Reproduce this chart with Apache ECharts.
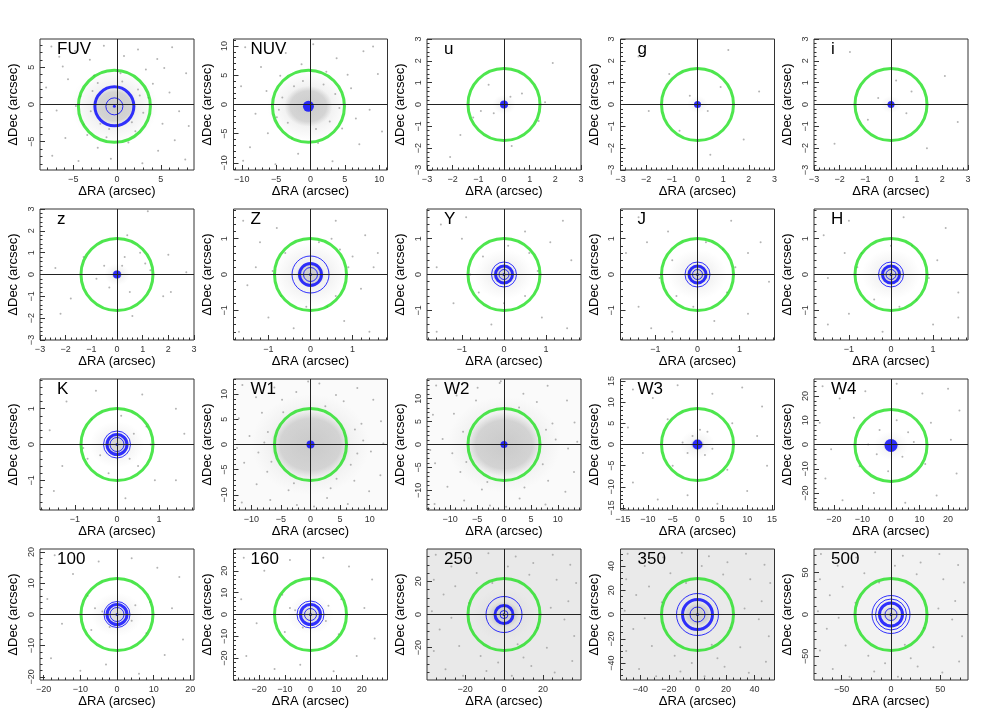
<!DOCTYPE html>
<html>
<head>
<meta charset="utf-8">
<script src="https://cdn.jsdelivr.net/npm/echarts@6/dist/echarts.min.js"></script>
<style>
html, body { margin: 0; padding: 0; background: #fff; }
#chart { width: 1008px; height: 720px; }
</style>
</head>
<body>
<div id="chart"></div>
<script>
// ===== panel data (one entry per band) =====
const bands = ['FUV', 'NUV', 'u', 'g', 'i', 'z', 'Z', 'Y', 'J', 'H', 'K', 'W1', 'W2', 'W3', 'W4', '100', '160', '250', '350', '500'];
const axisMax = [8.8, 11.2, 3, 3, 3, 3, 1.83, 1.83, 1.83, 1.83, 1.83, 13, 14.3, 15.5, 27, 21, 30, 39.5, 54, 78];
const majorTicks = [
  [-5, 0, 5], [-10, -5, 0, 5, 10],
  [-3, -2, -1, 0, 1, 2, 3], [-3, -2, -1, 0, 1, 2, 3], [-3, -2, -1, 0, 1, 2, 3], [-3, -2, -1, 0, 1, 2, 3],
  [-1, 0, 1], [-1, 0, 1], [-1, 0, 1], [-1, 0, 1], [-1, 0, 1],
  [-10, -5, 0, 5, 10], [-10, -5, 0, 5, 10], [-15, -10, -5, 0, 5, 10, 15], [-20, -10, 0, 10, 20],
  [-20, -10, 0, 10, 20], [-20, -10, 0, 10, 20], [-20, 0, 20], [-40, -20, 0, 20, 40], [-50, 0, 50]
];
const minorStep = [1, 1, 0.2, 0.2, 0.2, 0.2, 0.2, 0.2, 0.2, 0.2, 0.2, 1, 1, 1, 2, 2, 2, 5, 5, 10];
// centroid of the offsets (arcsec)
const centreX = [-0.3, -0.3, 0, 0, 0, 0, 0, 0, 0, 0, 0, 0, 0, 0, 0, 0, 0, 0, 0, 0];
const centreY = [-0.25, -0.3, 0, 0, 0, 0, 0, 0, 0, 0, 0, 0, 0, 0, -0.4, 0, 0, 0, 0, 0];
// dense core / halo of the offset cloud (arcsec)
const coreRadius = [2.6, 3.5, 0.18, 0.16, 0.16, 0.22, 0.35, 0.3, 0.3, 0.3, 0.3, 6.8, 7.0, 1.5, 3, 3, 4, 8, 10, 10];
const haloRadius = [5.0, 6.0, 0.45, 0.4, 0.4, 0.5, 0.9, 0.7, 0.7, 0.7, 0.65, 10, 10.5, 3.5, 6, 7, 9, 16, 18, 20];
const coreAlpha = [0.8, 0.8, 0.8, 0.8, 0.8, 0.7, 0.8, 0.75, 0.75, 0.75, 0.7, 0.8, 0.8, 0.6, 0.55, 0.55, 0.55, 0.65, 0.65, 0.5];
const haloAlpha = [0.35, 0.35, 0.25, 0.2, 0.2, 0.25, 0.3, 0.25, 0.25, 0.25, 0.25, 0.35, 0.35, 0.2, 0.2, 0.25, 0.25, 0.25, 0.25, 0.2];

// scattered individual offsets [dRA, dDec] (arcsec)
const sparse = {
  FUV: [[-7.5, 7.8], [-6.2, 5.1], [-4.8, 7.2], [-3.1, 6.0], [-1.5, 7.9], [0.8, 6.5], [2.4, 7.4], [4.6, 6.1], [6.3, 7.7], [7.9, 4.2],
    [-8.1, 2.3], [-6.9, -0.8], [-5.6, 3.4], [-4.2, 1.1], [-3.8, -2.7], [-5.9, -4.5], [-7.4, -6.9], [-4.4, -7.6], [-2.2, -5.8], [-0.7, -7.3],
    [1.3, -5.1], [2.9, -7.9], [4.7, -6.2], [6.6, -4.8], [7.8, -7.4], [5.2, -2.6], [7.1, -0.9], [4.1, 2.8], [6.0, 1.6], [3.3, 4.7],
    [-2.6, 3.9], [2.1, -3.6], [-3.4, -4.1], [0.4, 4.2], [-1.2, -4.4], [3.6, 0.9], [-4.7, -0.2], [5.4, 4.9], [-6.6, 6.4], [8.2, -2.9],
    [-2.8, 1.8], [2.4, 2.0], [-1.9, -2.6], [1.7, -2.4], [-3.0, -0.9], [3.0, -1.1], [0.6, 3.1], [-0.9, -3.3], [2.6, 1.2], [-2.2, 2.9]],
  NUV: [[-9.5, 9.8], [-7.2, 6.4], [-3.6, 8.8], [0.4, 10.3], [3.8, 7.9], [7.7, 9.1], [9.8, 5.2], [-10.1, 3.1], [-8.0, -1.6], [-6.4, 2.3],
    [5.9, 2.8], [8.6, -0.9], [10.4, -4.6], [7.1, -6.8], [3.2, -9.7], [-1.8, -8.4], [-5.1, -10.2], [-8.8, -7.3], [-6.2, -4.9], [4.6, -4.1],
    [-4.4, 4.9], [2.3, 5.6], [-2.7, -5.8], [5.4, 5.1], [-9.8, -9.6], [9.1, 9.9], [1.1, -6.6], [-4.9, -2.2], [6.6, -2.4], [-1.3, 6.9],
    [-4.1, 1.2], [3.6, 1.8], [-3.3, -3.1], [2.8, -2.9], [-1.1, 4.0], [0.8, -4.2], [4.2, -0.6], [-4.6, -0.9], [1.9, 3.4], [-2.4, 3.1]],
  u: [[1.9, 1.9], [-1.7, -1.4], [0.3, -1.9], [-1.2, -0.6], [1.35, -0.75], [0.7, 0.5], [-0.6, 0.9], [-2.1, -2.4], [1.6, 0.1], [-0.4, -0.4], [-0.9, -0.3], [0.25, 0.35]],
  g: [[-2.3, 2.2], [1.8, -1.6], [-1.1, 1.4], [0.9, 0.8], [-0.7, -1.2], [2.4, 0.6], [-1.9, -0.3], [0.5, -2.3], [1.2, 2.5], [-0.3, 0.4], [0.4, -0.3]],
  i: [[-1.6, 2.4], [2.1, 1.3], [-2.2, -1.8], [1.4, -2.0], [0.8, 0.6], [-0.9, -0.7], [0.2, 1.1], [-0.5, 0.3], [0.6, -0.4], [2.6, -0.8]],
  z: [[1.2, 2.9], [0.4, 1.8], [-2.2, -1.8], [-2.4, 0.3], [1.1, 0.5], [0.9, 1.0], [0.3, 0.8], [-0.5, 0.4], [2.0, 0.9], [1.8, -1.0],
    [2.1, -0.8], [-1.8, -1.1], [0.6, -1.9], [-0.3, -0.6], [1.3, 0.2], [-1.3, 0.8], [0.5, -0.8], [-0.8, -0.2], [0.2, 0.4], [2.7, 0.1]],
  Z: [[-1.6, 1.5], [-1.2, 0.9], [-0.8, 1.3], [0.6, 1.5], [1.3, 1.1], [1.6, 0.6], [-1.5, -0.3], [-1.3, 0.2], [1.2, -0.4], [1.5, 0.2],
    [-1.0, -1.2], [-0.4, -1.5], [0.8, -1.3], [1.4, -1.6], [-1.7, -1.6], [0.7, 0.7], [-0.6, 0.6], [-0.7, -0.6], [0.6, -0.6], [0.9, 0.2],
    [-0.9, 0.1], [0.2, 0.9], [-0.1, -0.9], [0.5, 1.0], [1.0, 0.5], [0.4, -0.9]],
  Y: [[-1.5, 1.4], [-0.9, 1.6], [0.5, 1.2], [1.4, 1.5], [1.6, 0.4], [-1.6, 0.2], [-1.2, -0.8], [-0.3, -1.4], [0.9, -1.2], [1.5, -1.5],
    [-1.6, -1.6], [0.6, 0.6], [-0.5, 0.5], [-0.6, -0.5], [0.5, -0.6], [0.8, 0.1], [-0.8, 0.0], [0.1, 0.8], [0.0, -0.8], [1.1, 0.9], [-1.0, 1.0]],
  J: [[-1.4, 1.6], [-0.7, 1.2], [0.8, 1.5], [1.5, 0.9], [1.7, -0.2], [-1.7, 0.6], [-1.4, -0.9], [-0.6, -1.6], [0.4, -1.3], [1.2, -1.1],
    [-1.1, -1.5], [0.6, 0.7], [-0.6, 0.4], [-0.5, -0.6], [0.7, -0.5], [0.9, 0.2], [-0.9, -0.1], [0.2, 0.9], [-0.1, -0.9], [1.2, 0.6], [-1.2, 0.9]],
  H: [[-1.6, 1.1], [-1.0, 1.5], [0.3, 1.6], [1.3, 1.3], [1.6, -0.5], [-1.5, -0.1], [-1.0, -1.1], [-0.2, -1.6], [1.0, -1.4], [1.6, -1.2],
    [-1.5, -1.4], [0.5, 0.8], [-0.7, 0.6], [-0.4, -0.7], [0.6, -0.7], [0.9, -0.1], [-0.8, 0.2], [0.0, 0.8], [0.2, -0.9], [1.1, 0.4], [-1.1, 0.6]],
  K: [[-1.5, -1.3], [-1.2, 1.2], [-0.5, 1.5], [0.6, 1.4], [1.4, 1.0], [1.6, 0.3], [-1.6, 0.4], [-1.3, -0.6], [0.2, -1.5], [0.9, -1.0],
    [1.4, -1.0], [0.7, 0.5], [-0.6, 0.7], [-0.7, -0.4], [0.5, -0.6], [0.8, 0.0], [-0.8, -0.1], [0.1, 0.8], [-0.2, -0.8], [0.4, 0.3], [-0.4, -0.3], [0.3, -0.4]],
  W1: [[-11.5, 11.8], [-9.2, 9.4], [-6.1, 11.3], [-2.4, 10.4], [1.5, 12.1], [4.3, 9.8], [7.9, 11.2], [10.6, 8.9], [11.9, 4.6], [-12.1, 5.2],
    [-10.3, 1.7], [-11.2, -3.6], [-9.1, -7.9], [-11.6, -11.5], [-6.8, -11.0], [-2.3, -12.0], [2.8, -10.6], [6.3, -11.8], [9.9, -9.3], [11.8, -6.1],
    [10.2, -1.4], [8.6, 4.1], [-8.2, 6.3], [7.4, -7.2], [-7.3, -5.4], [8.9, 0.8], [-8.8, -1.6], [5.6, 8.6], [-4.8, 8.9], [3.4, -8.7],
    [-3.7, -9.1], [12.3, 0.2], [-12.4, -0.7], [0.6, -12.3], [-0.4, 12.5], [7.5, 3.0], [-7.2, 2.5], [6.8, -4.0], [-6.6, -3.4], [2.5, 7.6],
    [-2.8, -7.7], [4.4, -6.8], [-4.6, 6.4], [7.9, -1.8], [-7.8, 0.4]],
  W2: [[-12.6, 12.9], [-8.8, 10.7], [-4.9, 12.4], [-0.8, 13.4], [3.6, 11.1], [8.1, 12.8], [11.7, 9.6], [13.1, 4.8], [-13.2, 6.5], [-11.4, 1.2],
    [-12.8, -4.1], [-10.5, -9.2], [-12.9, -13.0], [-7.4, -12.2], [-2.6, -13.3], [2.9, -11.8], [7.7, -13.1], [11.4, -10.3], [13.0, -6.0], [11.9, -0.9],
    [9.0, 4.6], [-9.3, 6.7], [8.2, -7.9], [-8.1, -6.0], [9.6, 1.1], [-9.6, -1.9], [6.1, 9.3], [-5.2, 9.6], [3.8, -9.4], [-4.1, -9.8],
    [13.6, 0.6], [-13.7, -1.2], [0.4, -13.6], [-0.6, 13.8], [7.8, 3.2], [-7.6, 2.8], [7.2, -4.3], [-7.0, -3.8], [2.8, 8.1], [-3.1, -8.2]],
  W3: [[-13, 13], [-9, 11], [-4, 14], [3, 12], [9, 13.5], [13, 9], [-14, 4], [-11, -2], [-13, -9], [-8, -13], [-2, -12], [4, -14], [10, -11],
    [14, -5], [12, 2], [7, 5], [-6, 6], [-5, -5], [6, -6], [2, 3], [-2, -2], [3, -1], [-1, 2], [1.5, -2.5], [-3, 0.5], [0.5, 3.5]],
  W4: [[-24, 24], [-18, 19], [-9, 22], [2, 25], [11, 21], [20, 23], [24, 14], [-25, 9], [-21, -2], [-23, -14], [-17, -23], [-6, -20], [5, -24],
    [16, -21], [23, -12], [21, 2], [14, 9], [-13, 11], [-11, -9], [12, -8], [6, 5], [-5, -4], [4, -5], [-4, 6], [8, 1], [-8, 0], [2, 10], [-1, -11]],
  100: [[-17, 19], [-12, 13], [-5, 17], [4, 18], [11, 15], [17, 12], [-19, 5], [-15, -3], [-18, -14], [-10, -18], [-3, -16], [6, -19],
    [13, -13], [18, -8], [15, 2], [9, 4], [-8, 6], [-7, -5], [8, -6], [-4, 1], [4, -2], [-6, 2], [5, 3], [-2, -4]],
  160: [[-26, 26], [-18, 20], [-8, 25], [5, 26], [15, 22], [24, 16], [-27, 7], [-21, -4], [-25, -19], [-14, -25], [-4, -23], [9, -26],
    [18, -19], [25, -11], [21, 3], [12, 7], [-11, 9], [-10, -8], [11, -9], [-6, 2], [6, -3], [-8, 3], [7, 4], [-3, -6]],
  250: [[-35, 36], [-27, 29], [-18, 34], [-8, 37], [6, 35], [15, 31], [25, 36], [34, 30], [37, 19], [-36, 21], [-31, 12], [-37, 2], [-33, -9],
    [-36, -22], [-30, -33], [-21, -37], [-9, -34], [4, -37], [14, -31], [26, -35], [35, -28], [36, -13], [31, -3], [33, 8], [27, 21], [-25, 17],
    [-23, -19], [22, -20], [-14, 25], [13, 24], [-12, -25], [10, -26], [-27, -2], [24, 4], [-6, 19], [7, -18], [-18, 7], [17, -8], [2, 29], [-3, -29]],
  350: [[-49, 50], [-37, 40], [-24, 47], [-11, 51], [8, 48], [21, 43], [34, 50], [47, 41], [51, 26], [-50, 29], [-43, 16], [-51, 3], [-45, -12],
    [-50, -30], [-41, -45], [-29, -51], [-12, -47], [5, -51], [19, -43], [36, -48], [48, -39], [50, -18], [43, -4], [45, 11], [37, 29], [-34, 23],
    [-32, -26], [30, -27], [-19, 34], [18, 33], [-16, -34], [14, -36], [-37, -3], [33, 5], [-8, 26], [10, -25], [-25, 10], [23, -11], [3, 40], [-4, -40]],
  500: [[-71, 72], [-54, 58], [-35, 68], [-16, 74], [12, 70], [30, 62], [49, 72], [68, 59], [74, 38], [-72, 42], [-62, 23], [-74, 4], [-65, -17],
    [-72, -43], [-59, -65], [-42, -74], [-17, -68], [7, -74], [27, -62], [52, -69], [69, -56], [72, -26], [62, -6], [65, 16], [53, 42], [-49, 33],
    [-46, -37], [43, -39], [-27, 49], [26, 48], [-23, -49], [20, -52], [-53, -4], [48, 7], [-12, 38], [14, -36], [-36, 14], [33, -16], [4, 58], [-6, -58]]
};

// ===== styles =====
// blue circles per panel: [diameter px, line width] (0 = filled dot)
const ringStyle = [
  [[39, 3], [17, 1], [3, 0]], [[11, 0]], [[8, 0]], [[7, 0]], [[7, 0]], [[8, 0]],
  [[37, 1], [22, 3], [14, 1], [3, 0]], [[25, 1], [17, 3], [10, 1], [3, 0]], [[25, 1], [17, 3], [10, 1], [3, 0]],
  [[25, 1], [17, 3], [10, 1], [3, 0]], [[27, 1], [20, 3], [14, 1], [3, 0]],
  [[8, 0]], [[7, 0]], [[10, 0]], [[13, 0]],
  [[26, 1], [20, 3], [14, 1], [3, 0]], [[27, 1], [20, 3], [12, 1], [3, 0]],
  [[36, 1], [18, 3], [8, 1], [3, 0]], [[42, 1], [30, 3], [15, 1], [3, 0]], [[38, 1], [31, 1], [23, 3], [12, 1], [3, 0]]
];
// speckled field of the sub-mm panels, drawn as a flat tone
const fieldTone = { '250': '#e9e9e9', '350': '#eaeaea', '500': '#f2f2f2', 'W1': '#fafafa', 'W2': '#fafafa' };

const GREEN = '#22e022';
const BLUE = '#0000ff';
const FONT = 'Liberation Sans, Arial, Helvetica, sans-serif';
const PW = 154, PH = 131;            // plot frame size (px)
const colX = (c) => 40 + 193.5 * c;
const rowY = (r) => 39 + 170 * r;

const minus = (v) => String(v).replace('-', '\u2212');
const minorValues = (max, step) => {
  const out = [];
  for (let v = Math.ceil(-max / step) * step; v <= max + 1e-9; v += step) out.push(Math.round(v * 1000) / 1000);
  return out;
};

const chart = echarts.init(document.getElementById('chart'));
const grid = [], xAxis = [], yAxis = [], series = [], title = [];

bands.forEach((band, i) => {
  const c = i % 5, r = Math.floor(i / 5);
  const m = axisMax[i];
  const pxX = PW / (2 * m), pxY = PH / (2 * m);
  grid.push({
    left: colX(c), top: rowY(r), width: PW, height: PH,
    show: true, borderColor: '#333', borderWidth: 1,
    backgroundColor: fieldTone[band] || '#fff'
  });
  title.push({
    text: band, left: colX(c) + 17, top: rowY(r) + 2, padding: 0,
    textStyle: { fontSize: 17, fontWeight: 'normal', color: '#000', fontFamily: FONT }
  });
  // axis line off and not on zero (the crosshair is drawn by markLine)
  const common = { gridIndex: i, min: -m, max: m, splitLine: { show: false }, axisLine: { show: false, onZero: false } };
  // major ticks + labels
  xAxis.push(Object.assign({}, common, {
    type: 'value', position: 'bottom',
    name: '\u0394RA (arcsec)', nameLocation: 'middle', nameGap: 15,
    nameTextStyle: { fontSize: 13, color: '#000', fontFamily: FONT },
    axisTick: { show: true, inside: true, length: 5, customValues: majorTicks[i], lineStyle: { color: '#333' } },
    axisLabel: { customValues: majorTicks[i], fontSize: 9, color: '#333', margin: 5, fontFamily: FONT, formatter: minus }
  }));
  // minor ticks
  xAxis.push(Object.assign({}, common, {
    type: 'value', position: 'bottom',
    axisTick: { show: true, inside: true, length: 2.5, customValues: minorValues(m, minorStep[i]), lineStyle: { color: '#333' } },
    axisLabel: { show: false }
  }));
  yAxis.push(Object.assign({}, common, {
    type: 'value', position: 'left',
    name: '\u0394Dec (arcsec)', nameLocation: 'middle', nameGap: 20,
    nameTextStyle: { fontSize: 13, color: '#000', fontFamily: FONT },
    axisTick: { show: true, inside: true, length: 5, customValues: majorTicks[i], lineStyle: { color: '#333' } },
    axisLabel: { customValues: majorTicks[i], fontSize: 9, color: '#333', margin: 4, rotate: 90, fontFamily: FONT, formatter: minus }
  }));
  yAxis.push(Object.assign({}, common, {
    type: 'value', position: 'left',
    axisTick: { show: true, inside: true, length: 2.5, customValues: minorValues(m, minorStep[i]), lineStyle: { color: '#333' } },
    axisLabel: { show: false }
  }));

  const ax = { xAxisIndex: 2 * i, yAxisIndex: 2 * i };
  const cx = centreX[i], cy = centreY[i];
  const glow = (a, hold) => new echarts.graphic.RadialGradient(0.5, 0.5, 0.5, [
    { offset: 0, color: 'rgba(185,185,185,' + a + ')' },
    { offset: hold, color: 'rgba(190,190,190,' + (a * 0.85) + ')' },
    { offset: 1, color: 'rgba(200,200,200,0)' }
  ]);

  // offset cloud: halo then core
  series.push(Object.assign({
    type: 'scatter', silent: true, z: 1, animation: false,
    data: [
      { value: [cx, cy], symbolSize: [2 * haloRadius[i] * pxX, 2 * haloRadius[i] * pxY], itemStyle: { color: glow(haloAlpha[i], 0.5) } },
      { value: [cx, cy], symbolSize: [2 * coreRadius[i] * pxX, 2 * coreRadius[i] * pxY], itemStyle: { color: glow(coreAlpha[i], 0.75) } }
    ]
  }, ax));

  // individual offsets + crosshair
  series.push(Object.assign({
    type: 'scatter', silent: true, z: 2, animation: false,
    symbolSize: 2, itemStyle: { color: '#a0a0a0' },
    data: sparse[band],
    markLine: {
      silent: true, symbol: ['none', 'none'], animation: false,
      label: { show: false },
      lineStyle: { color: '#222', type: 'solid', width: 1 },
      data: [{ xAxis: 0 }, { yAxis: 0 }]
    }
  }, ax));

  // green circle
  series.push(Object.assign({
    type: 'scatter', silent: true, z: 3, animation: false,
    symbolSize: 72,
    itemStyle: { color: 'rgba(0,0,0,0)', borderColor: GREEN, borderWidth: 3 },
    data: [[cx, cy]]
  }, ax));

  // blue circles
  series.push(Object.assign({
    type: 'scatter', silent: true, z: 4, animation: false,
    data: ringStyle[i].map(([d, w]) => ({
      value: [cx, cy], symbolSize: d,
      itemStyle: w === 0
        ? { color: BLUE, borderWidth: 0 }
        : { color: 'rgba(0,0,0,0)', borderColor: BLUE, borderWidth: w }
    }))
  }, ax));
});

chart.setOption({
  backgroundColor: '#fff',
  animation: false,
  title, grid, xAxis, yAxis, series
});

window.addEventListener('resize', () => {
  chart.resize();
});
</script>
</body>
</html>
